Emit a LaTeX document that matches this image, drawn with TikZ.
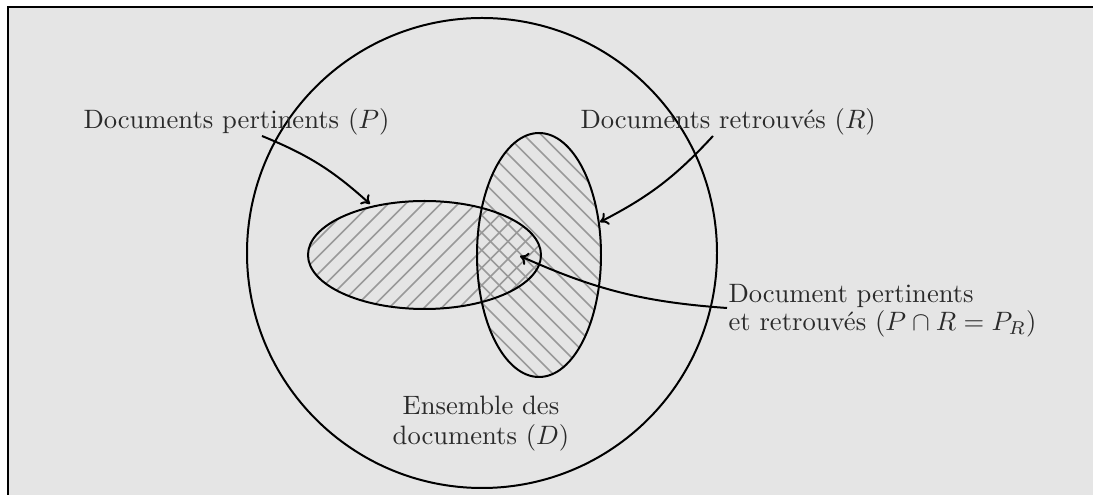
\documentclass[tikz,border=0pt]{standalone}
\usetikzlibrary{arrows.meta}
\definecolor{bggray}{HTML}{E5E5E5}
\definecolor{hatchgray}{HTML}{999999}
\definecolor{txt}{HTML}{2A2A2A}
\tikzset{
  outline/.style={draw=black, line width=0.75pt},
  hatch/.style={draw=hatchgray, line width=0.6pt},
  label/.style={inner sep=0pt, text=txt},
  pointer/.style={draw=black, line width=0.75pt, -{To[length=3pt,width=5pt]}},
}
\begin{document}
\begin{tikzpicture}[x=0.01322cm, y=0.01322cm]
\useasboundingbox (0,0) rectangle (1093,-495);
\clip (0,0) rectangle (1093,-495);
\draw[fill=bggray, line width=0.75pt] (8,-7) rectangle (1110,-520);

% hatching of P
\begin{scope}
  \clip (424.5,-255) ellipse [x radius=116.5, y radius=54];
  \foreach \i in {-25,...,25}
    \draw[hatch] ({424.5+\i*17.5-200},{-255-200}) -- ++(400,400);
\end{scope}
% hatching of R
\begin{scope}
  \clip (539,-255) ellipse [x radius=62, y radius=122];
  \foreach \i in {-30,...,30}
    \draw[hatch] ({539+\i*17.5+250},{-255-250}) -- ++(-500,500);
\end{scope}

\draw[outline] (424.5,-255) ellipse [x radius=116.5, y radius=54];
\draw[outline] (539,-255) ellipse [x radius=62, y radius=122];
\draw[outline] (482,-253) circle [radius=235];

\node[label, anchor=base west] (tP) at (83,-129) {Documents pertinents ($P$)};
\node[label, anchor=base west] (tR) at (580,-129) {Documents retrouvés ($R$)};
\node[label, anchor=base west, align=left] (tPR) at (728,-331)
  {Document pertinents\\[-1.1pt]et retrouvés ($P\cap R=P_R$)};
\node[label, anchor=base, align=center] (tD) at (481,-445)
  {Ensemble des\\[-0.7pt]documents ($D$)};

\coordinate (sP) at (262,-136);
\coordinate (eP) at (370,-204);
\coordinate (sR) at (713,-136);
\coordinate (eR) at (600,-222);
\coordinate (sPR) at (727,-308);
\coordinate (ePR) at (520,-256);
\draw[pointer] (sP) to[bend left=10] (eP);
\draw[pointer] (sR) to[bend left=10] (eR);
\draw[pointer] (sPR) to[bend left=10] (ePR);
\end{tikzpicture}
\end{document}
